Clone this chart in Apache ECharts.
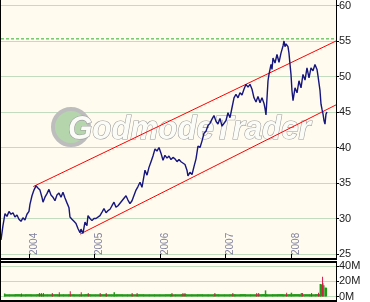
<!DOCTYPE html>
<html><head><meta charset="utf-8">
<script src="https://cdn.jsdelivr.net/npm/echarts@6/dist/echarts.min.js"></script>
<style>html,body{margin:0;padding:0;background:#fff}#c{width:370px;height:302px}</style>
</head><body><div id="c"></div>
<script>
// ---- price (decimal year, close) ----
const priceYears = [
2003.573,2003.603,2003.634,2003.664,2003.695,2003.725,2003.756,2003.786,2003.817,2003.847,
2003.878,2003.908,2003.939,2003.969,2004.000,2004.015,2004.046,2004.076,2004.107,2004.137,
2004.168,2004.198,2004.214,2004.244,2004.275,2004.305,2004.336,2004.366,2004.397,2004.427,
2004.458,2004.489,2004.519,2004.550,2004.580,2004.611,2004.626,2004.656,2004.687,2004.718,
2004.748,2004.779,2004.794,2004.824,2004.855,2004.885,2004.901,2004.931,2004.962,2004.992,
2005.023,2005.053,2005.084,2005.115,2005.145,2005.176,2005.206,2005.237,2005.267,2005.298,
2005.328,2005.359,2005.389,2005.420,2005.450,2005.481,2005.511,2005.542,2005.573,2005.603,
2005.634,2005.664,2005.695,2005.725,2005.756,2005.771,2005.802,2005.832,2005.863,2005.893,
2005.924,2005.954,2005.985,2006.015,2006.046,2006.076,2006.107,2006.137,2006.168,2006.198,
2006.229,2006.260,2006.290,2006.321,2006.351,2006.382,2006.412,2006.427,2006.458,2006.489,
2006.519,2006.550,2006.580,2006.611,2006.641,2006.672,2006.702,2006.733,2006.763,2006.794,
2006.824,2006.855,2006.885,2006.916,2006.947,2006.977,2007.008,2007.038,2007.069,2007.099,
2007.130,2007.160,2007.191,2007.221,2007.252,2007.282,2007.313,2007.344,2007.374,2007.405,
2007.435,2007.466,2007.496,2007.527,2007.557,2007.588,2007.603,2007.618,2007.634,2007.649,
2007.664,2007.695,2007.710,2007.725,2007.756,2007.786,2007.817,2007.847,2007.878,2007.893,
2007.908,2007.924,2007.954,2007.969,2007.985,2008.000,2008.015,2008.031,2008.061,2008.092,
2008.122,2008.153,2008.183,2008.214,2008.244,2008.275,2008.305,2008.336,2008.366,2008.397,
2008.412,2008.443,2008.458,2008.473,2008.489,2008.504,2008.519,2008.534,2008.550];
const priceValues = [
27.0,29.0,30.7,30.3,31.0,30.6,30.8,30.2,30.5,29.9,
29.6,30.1,29.8,30.6,31.0,32.0,33.2,34.0,34.6,34.3,
34.0,33.0,32.3,33.0,33.5,34.1,33.3,33.0,32.5,33.3,
33.6,33.0,33.7,32.9,32.2,31.5,30.2,29.9,29.6,29.3,
28.6,28.0,28.5,27.9,29.5,29.0,30.4,30.0,29.7,30.0,
30.0,30.2,30.4,30.9,31.4,30.8,31.1,31.3,31.8,32.3,
31.6,31.8,32.0,32.5,32.4,33.2,32.6,32.1,32.5,32.5,
34.0,34.5,35.1,34.4,36.0,36.8,36.1,37.2,38.0,38.8,
39.8,39.5,40.0,39.2,38.2,38.9,38.5,38.8,38.3,38.6,
38.4,38.0,38.3,38.0,37.9,37.6,36.8,36.0,36.5,36.2,
37.3,38.4,40.2,40.0,40.9,42.0,42.3,43.1,43.4,44.0,
44.5,43.7,43.3,44.1,43.0,42.9,43.8,44.9,44.2,45.6,
47.0,47.5,47.0,47.7,47.4,48.2,48.9,48.5,48.9,48.2,
47.0,46.4,47.2,46.3,47.0,46.2,45.5,44.6,47.0,49.4,
50.3,51.7,51.0,52.6,51.9,53.1,52.0,53.3,54.3,55.0,
54.2,54.6,54.2,53.3,51.7,50.3,48.0,46.6,48.4,47.7,
49.4,48.4,50.3,49.5,51.2,49.8,51.2,50.8,51.7,51.0,
50.1,48.0,46.1,45.4,44.7,43.8,43.3,44.7,45.0];

// ---- trend channel ----
const upperYears = [2004.066, 2008.687];
const upperValues = [34.5, 55.0];
const lowerYears = [2004.779, 2008.687];
const lowerValues = [27.8, 46.0];
const levelYears = [2003.573, 2008.687];
const levelValues = [55.3, 55.3];

// ---- axes ----
const priceTicks = [25, 30, 35, 40, 45, 50, 55, 60];
const volTicks = [0, 20, 40];
const xRange = [2003.573, 2008.687];

// ---- volume (millions) ----
const volMonths = [
'2003-08-15','2003-09-15','2003-10-15','2003-11-15','2003-12-15',
'2004-01-15','2004-02-15','2004-03-15','2004-04-15','2004-05-15','2004-06-15','2004-07-15','2004-08-15','2004-09-15','2004-10-15','2004-11-15','2004-12-15',
'2005-01-15','2005-02-15','2005-03-15','2005-04-15','2005-05-15','2005-06-15','2005-07-15','2005-08-15','2005-09-15','2005-10-15','2005-11-15','2005-12-15',
'2006-01-15','2006-02-15','2006-03-15','2006-04-15','2006-05-15','2006-06-15','2006-07-15','2006-08-15','2006-09-15','2006-10-15','2006-11-15','2006-12-15',
'2007-01-15','2007-02-15','2007-03-15','2007-04-15','2007-05-15','2007-06-15','2007-07-15','2007-08-15','2007-09-15','2007-10-15','2007-11-15','2007-12-15',
'2008-01-15','2008-02-15','2008-03-15','2008-04-15','2008-05-15','2008-06-15'];
const volMonthValues = [
3.0,3.0,3.2,3.0,3.1,
3.0,3.2,3.0,3.0,3.1,3.0,3.0,3.1,3.0,3.0,3.2,3.0,
3.0,3.1,3.0,3.0,3.1,3.0,3.0,3.0,3.1,3.0,3.0,3.0,
3.0,3.1,3.0,3.0,3.2,3.0,3.0,3.1,3.0,3.0,3.1,3.0,
3.0,3.1,3.0,3.2,3.0,3.0,3.1,3.2,3.0,3.1,3.2,3.0,
3.1,3.2,3.0,3.1,3.0,3.2];
const volGreenYears = [2003.618, 2005.298, 2007.618, 2008.015, 2008.168, 2008.458, 2008.473, 2008.496, 2008.511, 2008.534, 2008.550];
const volGreenValues = [4.0, 5.5, 8.0, 5.0, 4.5, 16.4, 16.0, 17.5, 14.6, 11.6, 11.6];
const volRedYears = [2003.878,2004.153,2004.183,2004.214,2004.351,2004.458,2004.626,2004.794,2004.901,2005.084,
2005.176,2005.573,2005.649,2006.183,2006.351,2006.382,2006.840,2007.115,2007.481,2007.511,
2007.939,2008.183,2008.321,2008.427,2008.489];
const volRedValues = [4.0,4.5,4.5,4.5,4.5,5.5,7.0,5.5,4.5,4.5,
4.5,4.5,4.5,4.5,4.5,4.5,4.5,4.5,4.5,4.5,
5.0,4.5,4.5,5.0,26.0];

const DAY = 86400000;
const toMs = y => (y - 1970) * 365.2425 * DAY;
const pairs = (xs, ys) => xs.map((x, i) => [toMs(x), ys[i]]);

const cream = '#fffbee';
const gridCol = '#c3dcc0';
const W = 335;

const hiddenX = grid => ({type: 'time', gridIndex: grid, min: toMs(xRange[0]), max: toMs(xRange[1]),
  axisLine: {show: false}, axisTick: {show: false}, axisLabel: {show: false}, splitLine: {show: false}});

const chart = echarts.init(document.getElementById('c'), null, {renderer: 'canvas'});
chart.setOption({
  useUTC: true,
  animation: false,
  backgroundColor: '#ffffff',
  grid: [
    {left: 1, top: 4, width: W, height: 250},
    {left: 1, top: 266, width: W, height: 31}
  ],
  xAxis: [
    {type: 'time', gridIndex: 0, min: toMs(xRange[0]), max: toMs(xRange[1]), offset: 4,
     minInterval: 365 * DAY, maxInterval: 366 * DAY,
     axisLine: {show: false},
     axisTick: {show: true, inside: true, length: 4, lineStyle: {color: '#000'}},
     axisLabel: {inside: true, rotate: 90, margin: 3, align: 'left', verticalAlign: 'top',
       fontSize: 10, fontFamily: 'Liberation Sans', color: '#8080a0', formatter: '{yyyy}',
       showMinLabel: false, showMaxLabel: false},
     splitLine: {show: false}},
    hiddenX(1), hiddenX(1), hiddenX(1)
  ],
  yAxis: [
    {type: 'value', gridIndex: 0, position: 'right', min: priceTicks[0], max: priceTicks[priceTicks.length - 1], interval: 5,
     axisLine: {show: false},
     axisTick: {show: true, length: 3, lineStyle: {color: '#000'}},
     axisLabel: {margin: 3, fontSize: 11, fontFamily: 'Liberation Sans', color: '#222'},
     splitLine: {show: true, lineStyle: {color: gridCol, width: 1}}},
    {type: 'value', gridIndex: 1, position: 'right', min: volTicks[0], max: volTicks[volTicks.length - 1], interval: 20,
     axisLine: {show: false},
     axisTick: {show: true, length: 3, lineStyle: {color: '#000'}},
     axisLabel: {margin: 3, fontSize: 11, fontFamily: 'Liberation Sans', color: '#222', formatter: '{value}M'},
     splitLine: {show: true, lineStyle: {color: gridCol, width: 1}}}
  ],
  graphic: [
    {type: 'rect', z: -10, silent: true, shape: {x: 1, y: 0, width: W, height: 258}, style: {fill: cream}},
    {type: 'rect', z: -10, silent: true, shape: {x: 1, y: 262, width: W, height: 38}, style: {fill: cream}},
    {type: 'circle', z: 1, silent: true, shape: {cx: 71, cy: 127, r: 18}, style: {fill: '#b5d6ad', stroke: '#bdbdbd', lineWidth: 4}},
    {type: 'text', z: 1, silent: true, x: 68, y: 130, scaleX: 0.92, originX: 0, originY: 0,
     style: {text: 'GodmodeTrader', font: 'italic bold 34px "Liberation Sans"', fill: '#fbfbf8',
       stroke: '#9c9c9c', lineWidth: 1.2, verticalAlign: 'middle', align: 'left',
       shadowColor: 'rgba(80,80,80,0.55)', shadowBlur: 1, shadowOffsetX: 2.5, shadowOffsetY: 2.5}},
    {type: 'line', z: 20, silent: true, shape: {x1: 0.5, y1: 0, x2: 0.5, y2: 302}, style: {stroke: '#000', lineWidth: 1}},
    {type: 'line', z: 20, silent: true, shape: {x1: 336.5, y1: 0, x2: 336.5, y2: 259}, style: {stroke: '#000', lineWidth: 1}},
    {type: 'line', z: 20, silent: true, shape: {x1: 0, y1: 259, x2: 337, y2: 259}, style: {stroke: '#000', lineWidth: 2}},
    {type: 'line', z: 20, silent: true, shape: {x1: 0, y1: 262, x2: 337, y2: 262}, style: {stroke: '#000', lineWidth: 2}},
    {type: 'line', z: 20, silent: true, shape: {x1: 336.5, y1: 261, x2: 336.5, y2: 302}, style: {stroke: '#000', lineWidth: 1}},
    {type: 'line', z: 20, silent: true, shape: {x1: 0, y1: 301, x2: 337, y2: 301}, style: {stroke: '#000', lineWidth: 2}}
  ],
  series: [
    {type: 'line', xAxisIndex: 0, yAxisIndex: 0, data: pairs(levelYears, levelValues), showSymbol: false, silent: true,
     lineStyle: {color: '#2fae2f', width: 1, type: [3, 2]}, z: 3},
    {type: 'line', xAxisIndex: 0, yAxisIndex: 0, data: pairs(upperYears, upperValues), showSymbol: false, silent: true,
     lineStyle: {color: '#ff0000', width: 1}, z: 3},
    {type: 'line', xAxisIndex: 0, yAxisIndex: 0, data: pairs(lowerYears, lowerValues), showSymbol: false, silent: true,
     lineStyle: {color: '#ff0000', width: 1}, z: 3},
    {type: 'line', xAxisIndex: 0, yAxisIndex: 0, data: pairs(priceYears, priceValues), showSymbol: false,
     lineStyle: {color: '#16167e', width: 1.4}, z: 4},
    {type: 'bar', xAxisIndex: 1, yAxisIndex: 1, barWidth: 6, data: volMonths.map((d, i) => [Date.parse(d), volMonthValues[i]]),
     itemStyle: {color: '#229a16'}, z: 2},
    {type: 'bar', xAxisIndex: 2, yAxisIndex: 1, barWidth: 1.5, data: pairs(volGreenYears, volGreenValues),
     itemStyle: {color: '#229a16'}, z: 3},
    {type: 'bar', xAxisIndex: 3, yAxisIndex: 1, barWidth: 1, data: pairs(volRedYears, volRedValues),
     itemStyle: {color: '#d8174a'}, z: 4}
  ]
});
</script></body></html>
